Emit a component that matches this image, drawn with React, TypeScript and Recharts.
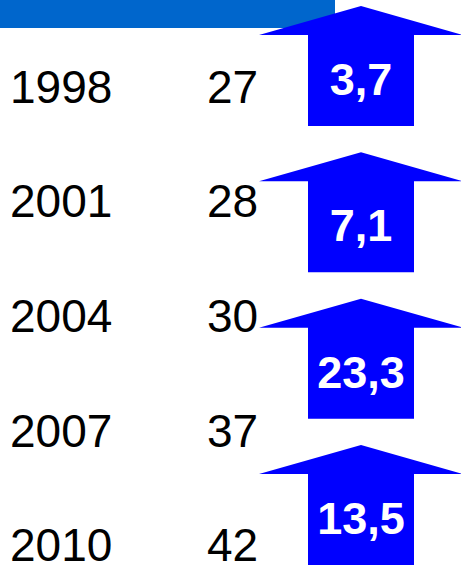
import { ComposedChart, Bar, Scatter, XAxis, YAxis } from "recharts";

const years = ["1998", "2001", "2004", "2007", "2010"];
const values = [27, 28, 30, 37, 42];
const periods = ["1998-2001", "2001-2004", "2004-2007", "2007-2010"];
const growth = [3.7, 7.1, 23.3, 13.5];

const rows = years.map((year, i) => ({ year, value: values[i] }));
const arrows = periods.map((period, i) => ({ period, growth: growth[i] }));

const FONT = "'Liberation Sans', Arial, sans-serif";
const fmt = (v: number) => v.toFixed(1).replace(".", ",");

const RowTick = ({ y, payload }: any) => {
  const value = values[years.indexOf(payload.value)];
  return (
    <g>
      <text x={10} y={y + 16.5} fontSize={46} fill="#000" fontFamily={FONT}>
        {payload.value}
      </text>
      <text x={207} y={y + 16.5} fontSize={46} fill="#000" fontFamily={FONT}>
        {value}
      </text>
    </g>
  );
};

// up arrow centred on the point, value written inside the shaft
const ArrowShape = ({ cx, cy, payload }: any) => {
  const pts = [
    [cx, cy - 60],
    [cx + 102, cy - 31],
    [cx + 53, cy - 31],
    [cx + 53, cy + 60],
    [cx - 53, cy + 60],
    [cx - 53, cy - 31],
    [cx - 102, cy - 31],
  ]
    .map((p) => p.join(","))
    .join(" ");
  return (
    <g>
      <polygon points={pts} fill="#0000FF" />
      <text
        x={cx}
        y={cy + 29}
        textAnchor="middle"
        fontSize={45}
        fontWeight="bold"
        fill="#fff"
        fontFamily={FONT}
      >
        {fmt(payload.growth)}
      </text>
    </g>
  );
};

export default function App() {
  return (
    <div style={{ position: "relative", width: 461, height: 567, overflow: "hidden", background: "#fff" }}>
      <style>{"body{margin:0}"}</style>
      <div style={{ position: "absolute", left: 0, top: 0, width: 335, height: 28, background: "#0066CC" }} />
      <div style={{ position: "absolute", left: 0, top: 0 }}>
        <ComposedChart
          layout="vertical"
          width={461}
          height={602}
          data={rows}
          margin={{ top: 29, right: 0, bottom: 0, left: 0 }}
        >
          <XAxis type="number" hide />
          <YAxis
            type="category"
            dataKey="year"
            width={260}
            axisLine={false}
            tickLine={false}
            interval={0}
            tick={<RowTick />}
          />
          <Bar dataKey="value" fill="none" isAnimationActive={false} />
        </ComposedChart>
      </div>
      <div style={{ position: "absolute", left: 0, top: 6 }}>
        <ComposedChart
          layout="vertical"
          width={461}
          height={561}
          data={arrows}
          margin={{ top: 60, right: 0, bottom: 62, left: 261 }}
        >
          <XAxis type="number" hide domain={[0, 2]} dataKey={() => 1} />
          <YAxis type="category" dataKey="period" hide />
          <Scatter dataKey="growth" shape={<ArrowShape />} isAnimationActive={false} />
        </ComposedChart>
      </div>
    </div>
  );
}
